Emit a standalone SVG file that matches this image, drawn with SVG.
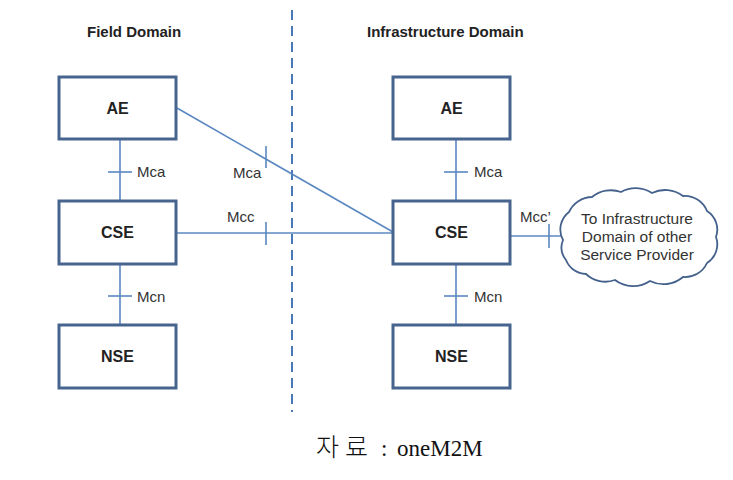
<svg xmlns="http://www.w3.org/2000/svg" width="733" height="480" viewBox="0 0 733 480">
<style>
.box{fill:#fff;stroke:#46648e;stroke-width:3}
.ln{stroke:#5b88c1;stroke-width:1.6;fill:none}
.tick{stroke:#5b88c1;stroke-width:1.6}
.dash{stroke:#4a78b6;stroke-width:2;stroke-dasharray:10 6}
.nl{font-family:"Liberation Sans",Arial,sans-serif;font-weight:bold;font-size:16px;fill:#222;text-anchor:middle}
.title{font-family:"Liberation Sans",Arial,sans-serif;font-weight:bold;font-size:15px;fill:#222}
.lab{font-family:"Liberation Sans",Arial,sans-serif;font-size:15px;fill:#333}
.cl{font-family:"Liberation Sans",Arial,sans-serif;font-size:15.5px;fill:#333;text-anchor:middle}
.cap{font-family:"Liberation Serif","Noto Sans CJK KR",serif;font-size:23px;fill:#111}
.kr{font-family:"Noto Sans CJK KR",sans-serif;font-size:25px;font-weight:300}
</style>
<rect width="733" height="480" fill="#fff"/>
<line class="dash" x1="292" y1="10" x2="292" y2="412"/>
<text class="title" x="87" y="37">Field Domain</text>
<text class="title" x="367" y="37">Infrastructure Domain</text>
<g id="connectors">
<line class="ln" x1="120" y1="139" x2="120" y2="201"/>
<line class="tick" x1="108" y1="172" x2="132" y2="172"/>
<line class="ln" x1="120" y1="264" x2="120" y2="325"/>
<line class="tick" x1="108" y1="296" x2="132" y2="296"/>
<line class="ln" x1="456" y1="139" x2="456" y2="201"/>
<line class="tick" x1="444" y1="172" x2="468" y2="172"/>
<line class="ln" x1="456" y1="264" x2="456" y2="325"/>
<line class="tick" x1="444" y1="296" x2="468" y2="296"/>
<line class="ln" x1="177" y1="108" x2="393" y2="232"/>
<line class="tick" x1="266" y1="146" x2="266" y2="168"/>
<line class="ln" x1="176" y1="233" x2="393" y2="233"/>
<line class="tick" x1="266" y1="222" x2="266" y2="245"/>
<line class="ln" x1="510" y1="236" x2="563" y2="236"/>
<line class="tick" x1="549" y1="224" x2="549" y2="248"/>
<text class="lab" x="137" y="177">Mca</text>
<text class="lab" x="137" y="302">Mcn</text>
<text class="lab" x="474" y="177">Mca</text>
<text class="lab" x="474" y="302">Mcn</text>
<text class="lab" x="233" y="178">Mca</text>
<text class="lab" x="227" y="222">Mcc</text>
<text class="lab" x="520" y="222">Mcc’</text>
</g>
<g id="ae-field"><rect class="box" x="59" y="77" width="117" height="62"/><text class="nl" x="117.5" y="114">AE</text></g>
<g id="cse-field"><rect class="box" x="59" y="201" width="117" height="63"/><text class="nl" x="117.5" y="238">CSE</text></g>
<g id="nse-field"><rect class="box" x="59" y="325" width="117" height="63"/><text class="nl" x="117.5" y="362">NSE</text></g>
<g id="ae-infra"><rect class="box" x="393" y="77" width="117" height="62"/><text class="nl" x="451.5" y="114">AE</text></g>
<g id="cse-infra"><rect class="box" x="393" y="201" width="117" height="63"/><text class="nl" x="451.5" y="238">CSE</text></g>
<g id="nse-infra"><rect class="box" x="393" y="325" width="117" height="63"/><text class="nl" x="451.5" y="362">NSE</text></g>
<g id="cloud">
<path d="M563,240 A22,22 0 0 1 569,212 A26,26 0 0 1 592,197 A30,30 0 0 1 621,192 A30,30 0 0 1 652,193 A30,30 0 0 1 683,196 A24,24 0 0 1 707,211 A22,22 0 0 1 716,237 A22,22 0 0 1 707,263 A24,24 0 0 1 683,277 A30,30 0 0 1 650,281 A30,30 0 0 1 615,280 A28,28 0 0 1 586,274 A22,22 0 0 1 566,260 A20,20 0 0 1 563,240 Z" fill="#fff" stroke="#44618c" stroke-width="1.8"/>
<text class="cl" x="637" y="224">To Infrastructure</text>
<text class="cl" x="637" y="242">Domain of other</text>
<text class="cl" x="637" y="260">Service Provider</text>
</g>
<text class="cap" y="456"><tspan class="kr" x="316 345">자료</tspan><tspan x="381">:</tspan><tspan x="397">oneM2M</tspan></text>
</svg>
